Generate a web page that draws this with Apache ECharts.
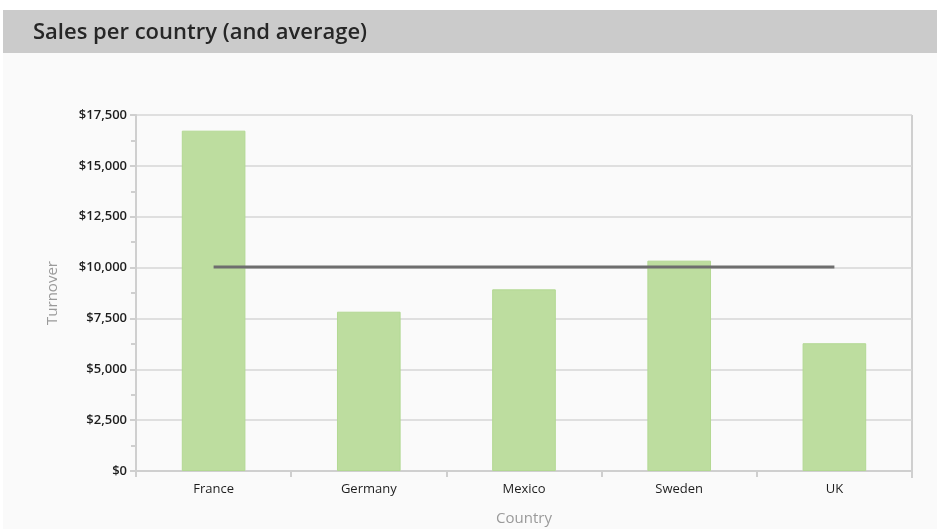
<!DOCTYPE html>
<html>
<head>
<meta charset="utf-8">
<script src="https://cdn.jsdelivr.net/npm/echarts@6/dist/echarts.min.js"></script>
<style>
  html, body { margin: 0; padding: 0; background: #ffffff; }
  #chart { width: 937px; height: 529px; }
</style>
</head>
<body>
<div id="chart"></div>
<script>
// Sales figures per country
const countries = ['France', 'Germany', 'Mexico', 'Sweden', 'UK'];
const turnover = [16730, 7830, 8930, 10340, 6280];
const yTicks = [0, 2500, 5000, 7500, 10000, 12500, 15000, 17500];

// Average turnover drawn across every category
const avg = turnover.reduce((a, b) => a + b, 0) / turnover.length;
const averageLine = countries.map(() => avg);

const fmt = v => '$' + v.toLocaleString('en-US');

const chart = echarts.init(document.getElementById('chart'));
chart.setOption({
  backgroundColor: '#ffffff',
  animation: false,
  graphic: [
    { type: 'rect', shape: { x: 3, y: 53, width: 934, height: 476 }, style: { fill: '#fafafa' }, z: -10 },
    { type: 'rect', shape: { x: 3, y: 10, width: 934, height: 43 }, style: { fill: '#cbcbcb' }, z: -10 },
    { type: 'text', left: 33, top: 22,
      style: { text: 'Sales per country (and average)', fill: '#262626',
               font: '600 22px "Open Sans", sans-serif' } },
    // right frame of the plot area
    { type: 'line', shape: { x1: 912, y1: 115, x2: 912, y2: 478 }, style: { stroke: '#cfcfcf', lineWidth: 2 }, z: -5 }
  ],
  grid: { left: 136, right: 25, top: 115, bottom: 58, outerBoundsMode: 'none' },
  xAxis: {
    type: 'category',
    data: countries,
    name: 'Country',
    nameLocation: 'middle',
    nameGap: 40,
    nameTextStyle: { color: '#9a9a9a', fontSize: 15, fontFamily: 'Open Sans' },
    axisLine: { lineStyle: { color: '#cfcfcf', width: 2 } },
    axisTick: { show: true, length: 6, lineStyle: { color: '#cfcfcf', width: 2 } },
    axisLabel: { color: '#1e1e1e', fontSize: 13, margin: 12, fontFamily: 'Open Sans' }
  },
  yAxis: {
    type: 'value',
    min: 0,
    max: 17500,
    interval: 2500,
    name: 'Turnover',
    nameLocation: 'middle',
    nameGap: 76,
    nameTextStyle: { color: '#9a9a9a', fontSize: 15, fontFamily: 'Open Sans' },
    axisLine: { show: true, lineStyle: { color: '#cfcfcf', width: 2 } },
    axisTick: { show: true, length: 6, lineStyle: { color: '#cfcfcf', width: 2 } },
    minorTick: { show: true, splitNumber: 2, length: 5, lineStyle: { color: '#cfcfcf', width: 2 } },
    axisLabel: {
      color: '#1e1e1e', fontSize: 13, fontWeight: 600, margin: 9, fontFamily: 'Open Sans',
      formatter: v => yTicks.includes(v) ? fmt(v) : ''
    },
    splitLine: { show: true, lineStyle: { color: '#d6d6d6', width: 1.5 } }
  },
  series: [
    {
      type: 'bar',
      data: turnover,
      barWidth: '41%',
      itemStyle: { color: '#bddd9f', borderColor: '#b3d893', borderWidth: 1 }
    },
    {
      type: 'line',
      data: averageLine,
      symbol: 'none',
      lineStyle: { color: '#6e6e6e', width: 3 },
      z: 5
    }
  ]
});
</script>
</body>
</html>
